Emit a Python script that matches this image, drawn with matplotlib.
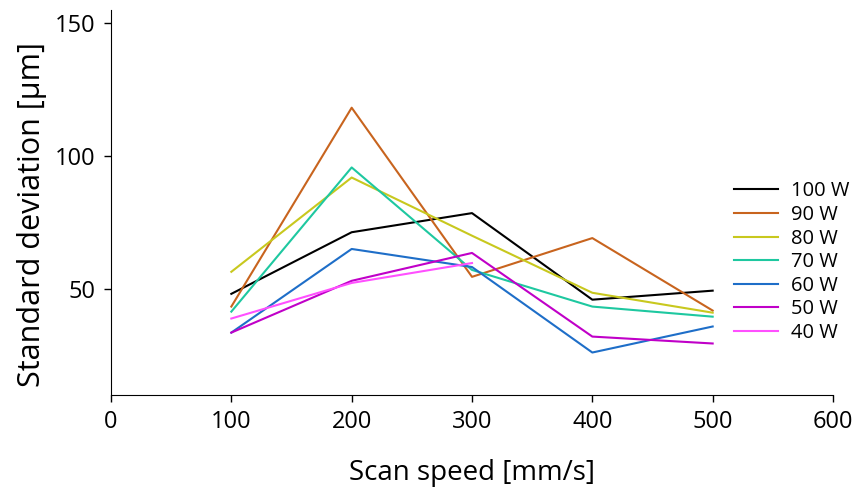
import matplotlib
matplotlib.use("Agg")
import matplotlib.pyplot as plt

plt.rcParams['font.family'] = ['Open Sans', 'DejaVu Sans']

speeds = [100, 200, 300, 400, 500]
labels = ["100 W", "90 W", "80 W", "70 W", "60 W", "50 W", "40 W"]
p100 = [48.1, 71.3, 78.5, 45.9, 49.3]
p90 = [43.3, 118.2, 54.5, 69.1, 41.8]
p80 = [56.4, 91.9, 70.0, 48.5, 41.0]
p70 = [41.4, 95.7, 57.1, 43.3, 39.5]
p60 = [33.5, 65.0, 58.2, 26.0, 35.8]
p50 = [33.5, 53.0, 63.5, 32.0, 29.4]
p40 = [38.8, 52.2, 59.7]
series = [p100, p90, p80, p70, p60, p50, p40]
colors = ["#000000", "#c8641e", "#c8c81e", "#1ec8a0", "#1e6ec8", "#c000c8", "#ff50ff"]

fig = plt.figure(figsize=(8.58, 4.93), dpi=100)
ax = fig.add_axes([111/858, 1-395/493, (833-111)/858, (395-10)/493])
for vals, lab, c in zip(series, labels, colors):
    ax.plot(speeds[:len(vals)], vals, color=c, lw=1.5, label=lab)

ax.set_xlim(0, 600)
ax.set_ylim(10, 155)
ax.set_xticks([0, 100, 200, 300, 400, 500, 600])
ax.set_yticks([50, 100, 150])
ax.spines['top'].set_visible(False)
ax.spines['right'].set_visible(False)
ax.tick_params(direction='out', length=5, width=1, labelsize=17, pad=6)
ax.set_xlabel("Scan speed [mm/s]", fontsize=20, labelpad=18)
ax.set_ylabel("Standard deviation [µm]", fontsize=22, labelpad=6)
ax.yaxis.label.set_y(0.47)
ax.legend(loc='center left', bbox_to_anchor=(0.838, 0.345), frameon=False,
          fontsize=14.5, handlelength=2.2, labelspacing=0.18, handletextpad=0.6,
          borderpad=0.4)
fig.savefig("out.png", dpi=100)
